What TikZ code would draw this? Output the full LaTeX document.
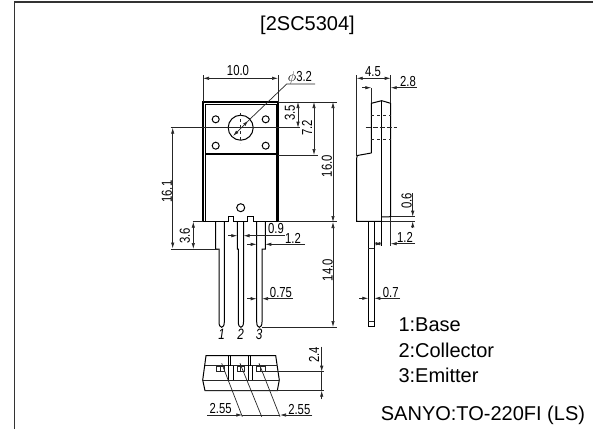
\documentclass[tikz,border=0pt]{standalone}
\usepackage{fontspec}
\setmainfont{Liberation Sans}
\newfontfamily\dimfont[FakeStretch=0.78]{Liberation Sans}
\usetikzlibrary{arrows.meta}
\tikzset{
    dimline/.style = {line width=0.7pt, black!85},
    thick line/.style = {line width=1.5pt},
    outline/.style = {line width=1pt},
    dimtext/.style = {font=\dimfont\fontsize{14.5}{14.5}\selectfont, inner sep=0pt},
    pinno/.style = {font=\dimfont\itshape\fontsize{15}{15}\selectfont, inner sep=0pt},
    caption/.style = {font=\fontsize{20}{20}\selectfont, inner sep=0pt, anchor=west}
}
\begin{document}
\begin{tikzpicture}[
        x = 1pt,
        y = -1pt,
        >= {Latex[length=6pt,width=3.4pt]}
    ]
        \useasboundingbox (0,0) rectangle (593,429);
        \draw [line width=1.2pt,black!80] (14.5,429)--(14.5,2)--(593,2);
        \node [font=\fontsize{20}{20}\selectfont] (title) at (307.5,25) {[2SC5304]};
        % front view
        \draw [thick line] (203,222)--(203,102)--(278,102)--(278,222);
        \draw [outline] (205.5,222)--(205.5,154)--(276,154)--(276,222);
        \draw [outline] (205,104)--(276,104);
        \draw [thick line] (205,154)--(276,154);
        \draw [outline] (205,104)--(205,154);
        \draw [outline] (276,104)--(276,154);
        \draw [outline] (240.7,127.7) circle (12.5);
        \foreach \x/\y in {215.7/119.3,265.7/119.3,215.7/145.7,265.7/145.7}
            \draw [outline] (\x,\y) circle (3.5);
        \draw [outline] (240.7,207.7) circle (4);
        \draw [dashed,dimline] (240.7,113)--(240.7,143);
        \draw [thick line] (203,221.7)--(228.3,221.7)--(228.3,216.7)--(233.3,216.7)--(233.3,221.7)--(247.3,221.7)--(247.3,216.7)--(253.3,216.7)--(253.3,221.7)--(278,221.7);
        % pins
        \draw [outline] (215.7,222)--(215.7,249)--(219,249)--(219,322) .. controls (219,329) and (224.3,329) .. (224.3,322)--(224.3,222);
        \draw [outline] (237.3,222)--(237.3,249)--(238.3,249)--(238.3,322) .. controls (238.3,329) and (243.5,329) .. (243.5,322)--(243.5,222);
        \draw [outline] (256.7,222)--(256.7,322) .. controls (256.7,329) and (262,329) .. (262,322)--(262,249)--(265.3,249)--(265.3,222);
        \node [pinno] (no1) at (221.7,334) {1};
        \node [pinno] (no2) at (240.7,334) {2};
        \node [pinno] (no3) at (259,334) {3};
        % front view dimensions
        \draw [dimline] (203,102)--(203,75);
        \draw [dimline] (278,102)--(278,75);
        \draw [dimline,<->] (203,78.3)--(278,78.3);
        \node [dimtext] (w100) at (238,71) {10.0};
        \draw [dimline,<->] (233,136)--(248.5,120.5);
        \draw [dimline] (248,121)--(286.7,84)--(315,84);
        \node [dimtext] (dia32) at (300,78) {$\phi$3.2};
        \draw [dimline] (278,102)--(337,102);
        \draw [dimline] (170.7,127.7)--(300,127.7);
        \draw [dimline,<->] (298,102)--(298,127.7);
        \node [dimtext,rotate=90] (h35) at (290,112.7) {3.5};
        \draw [dimline] (278,155)--(318,155);
        \draw [dimline,<->] (314,102)--(314,155);
        \node [dimtext,rotate=90] (h72) at (307,128) {7.2};
        \draw [dimline,<->] (333,102)--(333,222);
        \node [dimtext,rotate=90] (h160) at (327,166) {16.0};
        \draw [dimline] (192.7,221.7)--(203,221.7);
        \draw [dimline] (278,221.7)--(337,221.7);
        \draw [dimline,<->] (172.7,127.7)--(172.7,248.5);
        \node [dimtext,rotate=90] (h161) at (167,191.7) {16.1};
        \draw [dimline] (170.7,249)--(218,249);
        \draw [dimline,<->] (193.3,221.7)--(193.3,249);
        \node [dimtext,rotate=90] (h36) at (185,236) {3.6};
        \draw [dimline,->] (228,235.7)--(237.3,235.7);
        \draw [dimline,->] (285,235.7)--(243.5,235.7);
        \node [dimtext] (w09) at (276,229) {0.9};
        \draw [dimline,->] (247,244.3)--(256.7,244.3);
        \draw [dimline,->] (305,244.3)--(265.3,244.3);
        \node [dimtext] (w12) at (293,238) {1.2};
        \draw [dimline,->] (247,298.7)--(256.7,298.7);
        \draw [dimline,->] (293,298.7)--(262,298.7);
        \node [dimtext] (w075) at (281,292.5) {0.75};
        \draw [dimline] (262,327)--(337,327);
        \draw [dimline,<->] (333,222)--(333,327);
        \node [dimtext,rotate=90] (h140) at (327.7,270) {14.0};
        % side view
        \draw [outline] (371.3,153)--(371.3,103.3)--(381.7,100.7)--(390.7,103.3)--(390.7,216.7)--(381.7,217);
        \draw [outline] (371.3,153)--(357.3,155.5)--(356.7,158)--(356.7,221.3)--(381.7,221.3);
        \draw [outline] (381.7,100.7)--(381.7,246);
        \draw [dimline] (390.7,216.7)--(390.7,246);
        \draw [dimline,dashed] (371.3,115)--(390.7,115);
        \draw [dimline,dashed] (371.3,139)--(390.7,139);
        \draw [dimline,dash pattern=on 5pt off 2pt] (365.7,127.3)--(396.7,127.3);
        \draw [outline] (368.3,221.3)--(368.3,326.7)--(374.3,326.7)--(374.3,221.3);
        \draw [dimline] (368.3,321.7)--(374.3,321.7);
        \draw [dimline] (368.3,248.3)--(374.3,248.3);
        \draw [outline] (374.3,221.3)--(374.3,248.3);
        % side view dimensions
        \draw [dimline] (356.7,156)--(356.7,75);
        \draw [dimline] (390.7,103)--(390.7,75);
        \draw [dimline,<->] (356.7,78.3)--(390.7,78.3);
        \node [dimtext] (s45) at (373,71.7) {4.5};
        \draw [dimline] (371.3,103)--(371.3,87.7);
        \draw [dimline,->] (362,87.7)--(371.3,87.7);
        \draw [dimline,->] (416.7,87.7)--(390.7,87.7);
        \node [dimtext] (s28) at (408,81.7) {2.8};
        \draw [dimline] (390.7,216.7)--(415,216.7);
        \draw [dimline] (381.7,221.3)--(415,221.3);
        \draw [dimline,->] (412.7,193)--(412.7,216.7);
        \draw [dimline,->] (412.7,228)--(412.7,221.3);
        \node [dimtext,rotate=90] (s06) at (406.7,201) {0.6};
        \draw [dimline,<->] (374.3,243.7)--(381.7,243.7);
        \draw [dimline,->] (415,243.7)--(390.7,243.7);
        \node [dimtext] (s12) at (405,237.7) {1.2};
        \draw [dimline,->] (359.3,298.3)--(368.3,298.3);
        \draw [dimline,->] (400,298.3)--(374.3,298.3);
        \node [dimtext] (s07) at (390.7,292.3) {0.7};
        % bottom view
        \draw [outline] (206,355.7)--(275.7,355.7)--(279.3,380)--(277.3,390.7)--(205,390.7)--(202.7,380)--cycle;
        \draw [dimline] (205,365.7)--(277.3,365.7);
        \draw [dimline] (202.7,380)--(279.3,380);
        \draw [outline] (228.3,355.7)--(228.3,380);
        \draw [outline] (230.7,355.7)--(230.7,365.7);
        \draw [outline] (233.3,365.7)--(233.3,380);
        \draw [outline] (248.3,355.7)--(248.3,380);
        \draw [outline] (250.7,355.7)--(250.7,365.7);
        \draw [outline] (252.7,365.7)--(252.7,380);
        \foreach \x/\w in {216/8.3,237.3/6.7,256.7/9}
            \draw [dimline] (\x,366.7) rectangle ++(\w,5);
        \draw [dimline] (220,366.7)--(220,371.7);
        \draw [dimline] (240,366.7)--(240,371.7);
        \draw [dimline] (260,366.7)--(260,371.7);
        \draw [dimline] (221.7,363.3)--(242.3,416.7);
        \draw [dimline] (240,363.3)--(261.7,416.7);
        \draw [dimline] (259,363.3)--(280,416.7);
        \draw [dimline,->] (207.3,415)--(242.3,415);
        \draw [dimline,->] (312.3,415)--(280,415);
        \draw [dimline] (242.3,415)--(280,415);
        \node [dimtext] (b255a) at (220.7,408.3) {2.55};
        \node [dimtext] (b255b) at (299.3,409.3) {2.55};
        \draw [dimline] (261.7,371.7)--(324,371.7);
        \draw [dimline] (205,390.7)--(324,390.7);
        \draw [dimline,->] (321.7,346.7)--(321.7,371.7);
        \draw [dimline,->] (321.7,399.3)--(321.7,390.7);
        \draw [dimline] (321.7,371.7)--(321.7,390.7);
        \node [dimtext,rotate=90] (b24) at (314,355) {2.4};
        % legend
        \node [caption] (base) at (398.3,325) {1:Base};
        \node [caption] (collector) at (398.3,350.7) {2:Collector};
        \node [caption] (emitter) at (398.3,375.7) {3:Emitter};
        \node [caption] (package) at (380.7,415) {SANYO:TO-220FI (LS)};
\end{tikzpicture}
\end{document}
